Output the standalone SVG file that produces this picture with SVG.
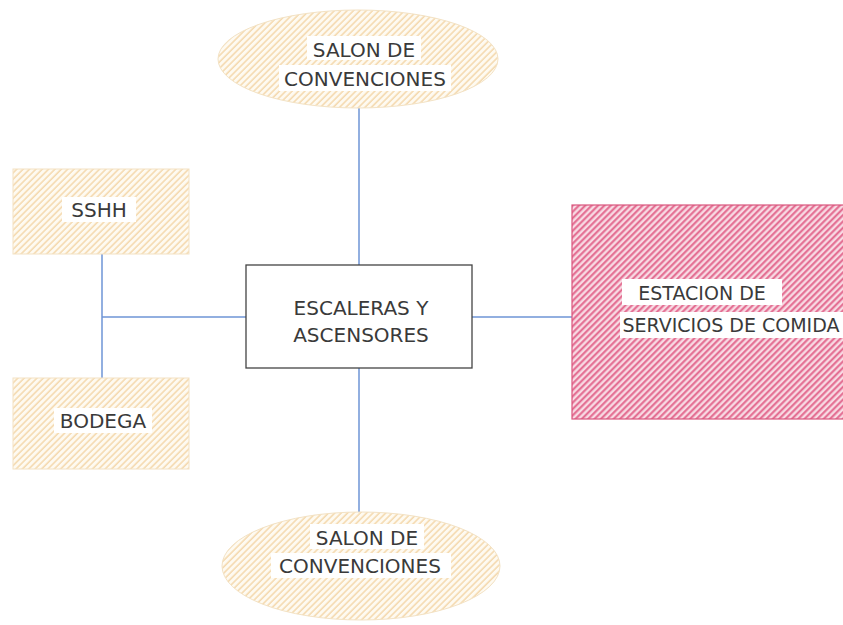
<svg xmlns="http://www.w3.org/2000/svg" width="843" height="625" viewBox="0 0 843 625">
<defs>
<pattern id="hOr" width="4.5" height="4.5" patternUnits="userSpaceOnUse" patternTransform="rotate(45)">
<rect width="4.5" height="4.5" fill="#fefaf1"/>
<line x1="1" y1="0" x2="1" y2="4.5" stroke="#f3d3a2" stroke-width="1.3"/>
</pattern>
<pattern id="hPk" width="4.5" height="4.5" patternUnits="userSpaceOnUse" patternTransform="rotate(45)">
<rect width="4.5" height="4.5" fill="#f8dbe4"/>
<line x1="1.2" y1="0" x2="1.2" y2="4.5" stroke="#e2668c" stroke-width="2"/>
</pattern>
</defs>
<style>
.t{font-family:"DejaVu Sans","Liberation Sans",sans-serif;font-size:20px;fill:#3a3a3a;text-anchor:middle}
.s{font-size:19px}
.bg{fill:#ffffff}
.c{stroke:#6e94d6;stroke-width:1.5;fill:none}
.or{fill:url(#hOr);stroke:#f3e2c4;stroke-width:1}
.pk{fill:url(#hPk);stroke:#d9557d;stroke-width:1.2}
</style>
<rect width="843" height="625" fill="#ffffff"/>
<g id="connectors">
<line class="c" x1="359" y1="108" x2="359" y2="265"/>
<line class="c" x1="359" y1="368" x2="359" y2="513"/>
<line class="c" x1="102" y1="254" x2="102" y2="378"/>
<line class="c" x1="102" y1="317" x2="246" y2="317"/>
<line class="c" x1="472" y1="317" x2="572" y2="317"/>
</g>
<g id="salon-top">
<ellipse class="or" cx="358" cy="59" rx="140" ry="49"/>
<rect class="bg" x="307" y="36" width="114" height="24"/>
<rect class="bg" x="279" y="65" width="172" height="26"/>
<text class="t" x="364" y="57">SALON DE</text>
<text class="t" x="365" y="86">CONVENCIONES</text>
</g>
<g id="sshh">
<rect class="or" x="13" y="169" width="176" height="85"/>
<rect class="bg" x="62" y="197" width="74" height="25"/>
<text class="t" x="99" y="217">SSHH</text>
</g>
<g id="bodega">
<rect class="or" x="13" y="378" width="176" height="91"/>
<rect class="bg" x="54" y="408" width="98" height="25"/>
<text class="t" x="103" y="428">BODEGA</text>
</g>
<g id="escaleras">
<rect x="246" y="265" width="226" height="103" fill="#ffffff" stroke="#444" stroke-width="1.3"/>
<text class="t" x="361" y="315">ESCALERAS Y</text>
<text class="t" x="361" y="342">ASCENSORES</text>
</g>
<g id="estacion">
<rect class="pk" x="572" y="205" width="275" height="214"/>
<rect class="bg" x="622" y="279" width="160" height="26"/>
<rect class="bg" x="620" y="312" width="223" height="26"/>
<text class="t s" x="702" y="300">ESTACION DE</text>
<text class="t s" x="731" y="332">SERVICIOS DE COMIDA</text>
</g>
<g id="salon-bottom">
<ellipse class="or" cx="361" cy="566" rx="139" ry="54"/>
<rect class="bg" x="310" y="524" width="114" height="25"/>
<rect class="bg" x="271" y="553" width="180" height="25"/>
<text class="t" x="367" y="545">SALON DE</text>
<text class="t" x="360" y="573">CONVENCIONES</text>
</g>
</svg>
